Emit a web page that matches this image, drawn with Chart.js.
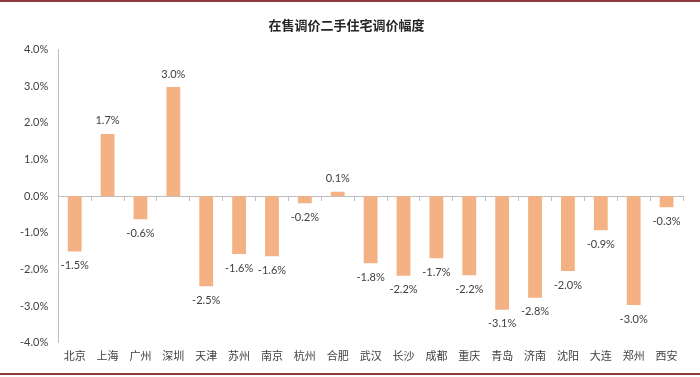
<!DOCTYPE html>
<html>
<head>
<meta charset="utf-8">
<script src="https://cdn.jsdelivr.net/npm/chart.js@4/dist/chart.umd.min.js"></script>
<style>
  html, body { margin: 0; padding: 0; background: #fff; }
  #wrap { position: relative; width: 700px; height: 377px; }
  .rule { position: absolute; left: 0; width: 700px; background: #8e3a3a; }
</style>
</head>
<body>
<div id="wrap">
  <canvas id="chart1" width="700" height="377"></canvas>
  <div class="rule" style="top:0;height:2px;"></div>
  <div class="rule" style="top:373px;height:2px;"></div>
</div>
<script>
const ctx = document.getElementById("chart1").getContext("2d")

// data (percent)
const cities = ["北京", "上海", "广州", "深圳", "天津", "苏州", "南京", "杭州", "合肥", "武汉",
                "长沙", "成都", "重庆", "青岛", "济南", "沈阳", "大连", "郑州", "西安"]
const changes = [-1.51, 1.70, -0.63, 2.98, -2.46, -1.58, -1.64, -0.19, 0.12, -1.83,
                 -2.17, -1.69, -2.16, -3.10, -2.77, -2.04, -0.93, -2.97, -0.30]
const yMin = -4
const yMax = 4
const yStep = 1

const labelFont = "Lato, 'Liberation Sans', sans-serif"
const cjkFont = "'Noto Sans CJK SC', sans-serif"

// value labels above / below each bar
const barLabels = {
    id: "barLabels",
    afterDatasetsDraw(chart){
        const c = chart.ctx
        const meta = chart.getDatasetMeta(0)
        c.save()
        c.font = "11px " + labelFont
        c.fillStyle = "#404040"
        c.textAlign = "center"
        c.textBaseline = "middle"
        meta.data.forEach((bar, i) => {
            const v = changes[i]
            const y = v >= 0 ? bar.y - 13 : bar.y + 14
            c.fillText(v.toFixed(1) + "%", bar.x, y)
        })
        c.restore()
    }
}

new Chart(ctx, {
    type: "bar",
    data: {
        labels: cities,
        datasets: [{
            data: changes,
            backgroundColor: "#f4b183",
            borderWidth: 0,
            categoryPercentage: 1,
            barPercentage: 0.42
        }]
    },
    options: {
        animation: false,
        responsive: false,
        layout: { padding: { left: 10, right: 17, top: 0, bottom: 9 } },
        plugins: {
            legend: { display: false },
            tooltip: { enabled: false },
            title: {
                display: true,
                text: "在售调价二手住宅调价幅度",
                color: "#262626",
                font: { family: cjkFont, size: 13, weight: "bold" },
                padding: { top: 17, bottom: 17 }
            }
        },
        scales: {
            x: {
                grid: { display: false, drawTicks: false },
                border: { display: false },
                ticks: {
                    color: "#404040",
                    padding: 6,
                    maxRotation: 0,
                    font: { family: cjkFont, size: 11 }
                }
            },
            // zero line with small tick marks between categories
            x0: {
                type: "category",
                axis: "x",
                labels: cities,
                position: { y: 0 },
                offset: true,
                grid: { offset: true, drawOnChartArea: false, drawTicks: true, tickLength: 4, color: "#bfbfbf" },
                border: { display: true, color: "#bfbfbf", width: 1 },
                ticks: { display: false }
            },
            y: {
                min: yMin,
                max: yMax,
                grid: { display: false, drawTicks: false },
                border: { display: true, color: "#bfbfbf", width: 1 },
                ticks: {
                    stepSize: yStep,
                    color: "#404040",
                    padding: 10,
                    font: { family: labelFont, size: 11 },
                    callback: v => v.toFixed(1) + "%"
                }
            }
        }
    },
    plugins: [barLabels]
})
</script>
</body>
</html>
